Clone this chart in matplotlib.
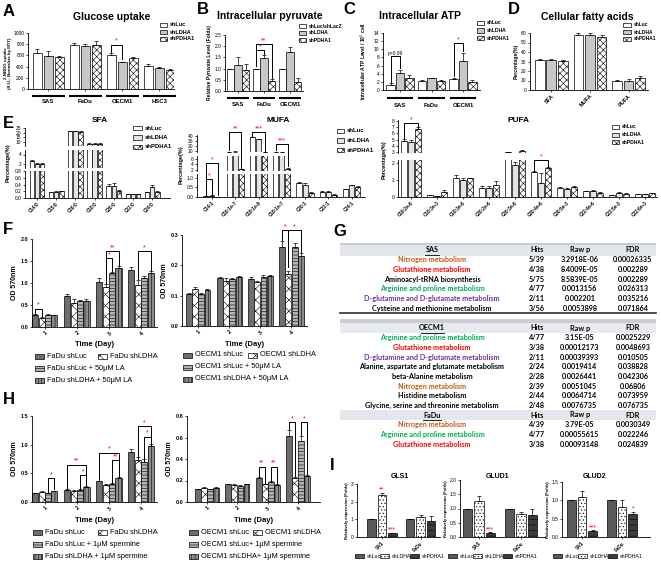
import matplotlib
matplotlib.use('Agg')
import matplotlib.pyplot as plt
import matplotlib.transforms as mtrans
from matplotlib.patches import Rectangle
import numpy as np

W, H = 661, 561
plt.rcParams.update({
    'font.family': ['Liberation Sans', 'DejaVu Sans'],
    'axes.linewidth': 0.6,
    'xtick.major.width': 0.5, 'ytick.major.width': 0.5,
    'xtick.major.size': 1.5, 'ytick.major.size': 1.5,
    'xtick.major.pad': 1, 'ytick.major.pad': 1,
    'xtick.labelsize': 3.5, 'ytick.labelsize': 3.5,
    'hatch.linewidth': 0.4,
})

# ---------------- data ----------------
kd3 = ['shLuc', 'shLDHA', 'shPDHA1']

# A glucose uptake
glu_cells = ['SAS', 'FaDu', 'OECM1', 'HSC3']
glu_mean = [[640, 585, 580], [785, 760, 780], [600, 475, 555], [410, 370, 345]]
glu_err = [[70, 95, 15], [45, 50, 75], [35, 10, 20], [35, 25, 8]]

# B pyruvate
pyr_cells = ['SAS', 'FaDu', 'OECM1']
pyr_mean = [[1.0, 1.18, 0.95], [1.0, 1.47, 0.45], [1.0, 1.72, 0.40]]
pyr_err = [[0.0, 0.35, 0.25], [0.0, 0.12, 0.08], [0.0, 0.25, 0.2]]

# C ATP
atp_cells = ['SAS', 'FaDu', 'OECM1']
atp_mean = [[1.3, 4.2, 3.0], [2.2, 2.9, 2.2], [2.6, 7.2, 1.9]]
atp_err = [[0.3, 0.8, 0.6], [0.2, 0.1, 0.3], [0.4, 1.8, 0.5]]

# D fatty acids
fa_class = ['SFA', 'MUFA', 'PUFA']
fa_mean = [[31.5, 32.0, 31.0], [58.0, 58.0, 56.0], [10.0, 9.0, 12.5]]
fa_err = [[1.5, 0.8, 1.0], [2.5, 1.5, 1.5], [1.0, 2.5, 2.5]]

# E
sfa_cats = ['C14:0', 'C15:0', 'C16:0', 'C18:0', 'C20:0', 'C22:0', 'C24:0']
sfa_mean = [[2.6, 2.0, 2.0], [0.17, 0.18, 0.20], [22.0, 22.0, 21.0], [8.5, 8.5, 8.5],
            [0.37, 0.35, 0.22], [0.12, 0.12, 0.12], [0.17, 0.33, 0.18]]
sfa_err = [[0.2, 0.1, 0.2], [0.01, 0.03, 0.02], [0.3, 0.3, 0.5], [0.3, 0.3, 0.5],
           [0.05, 0.08, 0.03], [0.01, 0.01, 0.01], [0.02, 0.06, 0.02]]

mufa_cats = ['C14:1', 'C16:1n-7', 'C18:1n-9', 'C18:1n-7', 'C20:1', 'C22:1', 'C24:1']
mufa_mean = [[0.05, 0.07, 0.02], [7.6, 7.8, 2.2], [37.0, 33.0, 7.5], [7.4, 7.6, 2.3],
             [0.75, 0.62, 0.22], [0.27, 0.27, 0.13], [0.40, 0.60, 0.50]]
mufa_err = [[0.01, 0.01, 0.005], [0.2, 0.3, 0.2], [0.8, 0.8, 0.3], [0.2, 0.3, 0.2],
            [0.05, 0.1, 0.06], [0.06, 0.06, 0.02], [0.03, 0.03, 0.08]]

pufa_cats = ['C18:2n-6', 'C18:3n-3', 'C18:3n-6', 'C20:2n-6', 'C20:3n-6',
             'C20:4n-6', 'C20:5n-3', 'C22:4n-6', 'C22:5n-3', 'C22:6n-3']
pufa_mean = [[4.8, 4.6, 6.8], [0.10, 0.05, 0.30], [1.15, 1.0, 1.1], [0.55, 0.55, 0.7],
             [2.9, 1.9, 3.1], [1.5, 0.85, 1.75], [0.55, 0.5, 0.6], [0.35, 0.35, 0.25],
             [0.10, 0.25, 0.20], [0.18, 0.18, 0.22]]
pufa_err = [[0.3, 0.3, 0.2], [0.02, 0.02, 0.1], [0.15, 0.1, 0.05], [0.1, 0.1, 0.25],
            [0.1, 0.2, 0.15], [0.05, 0.6, 0.05], [0.05, 0.05, 0.08], [0.03, 0.05, 0.03],
            [0.02, 0.05, 0.03], [0.02, 0.02, 0.03]]

# F / H growth curves
days = ['1', '2', '3', '4']
fadu_la_lab = ['FaDu shLuc', 'FaDu shLDHA', 'FaDu shLuc + 50\u03bcM LA', 'FaDu shLDHA + 50\u03bcM LA']
fadu_la_mean = [[0.27, 0.20, 0.28, 0.27], [0.70, 0.55, 0.60, 0.60],
                [1.02, 0.92, 1.22, 1.35], [1.30, 0.95, 1.12, 1.22]]
fadu_la_err = [[0.02, 0.02, 0.01, 0.01], [0.04, 0.08, 0.02, 0.04],
               [0.10, 0.05, 0.04, 0.03], [0.06, 0.12, 0.05, 0.05]]
oecm_la_lab = ['OECM1 shLuc', 'OECM1 shLDHA', 'OECM1 shLuc + 50\u03bcM LA', 'OECM1 shLDHA + 50\u03bcM LA']
oecm_la_mean = [[0.105, 0.122, 0.105, 0.118], [0.157, 0.150, 0.155, 0.162],
                [0.155, 0.145, 0.162, 0.165], [0.26, 0.17, 0.26, 0.23]]
oecm_la_err = [[0.005, 0.007, 0.005, 0.003], [0.005, 0.008, 0.004, 0.003],
               [0.008, 0.005, 0.005, 0.004], [0.02, 0.01, 0.015, 0.01]]
fadu_sp_lab = ['FaDu shLuc', 'FaDu shLDHA', 'FaDu shLuc + 1\u03bcM spermine', 'FaDu shLDHA + 1\u03bcM spermine']
fadu_sp_mean = [[0.15, 0.18, 0.15, 0.19], [0.21, 0.20, 0.21, 0.27],
                [0.36, 0.30, 0.32, 0.41], [0.88, 0.73, 0.70, 0.98]]
fadu_sp_err = [[0.01, 0.01, 0.01, 0.01], [0.01, 0.01, 0.01, 0.01],
               [0.01, 0.01, 0.01, 0.02], [0.05, 0.05, 0.05, 0.03]]
oecm_sp_lab = ['OECM1 shLuc', 'OECM1 shLDHA', 'OECM1 shLuc+ 1\u03bcM spermine', 'OECM1 shLDHA+ 1\u03bcM spermine']
oecm_sp_mean = [[0.12, 0.13, 0.12, 0.13], [0.165, 0.16, 0.15, 0.165],
                [0.22, 0.165, 0.19, 0.16], [0.61, 0.22, 0.57, 0.24]]
oecm_sp_err = [[0.005, 0.005, 0.005, 0.005], [0.005, 0.005, 0.005, 0.005],
               [0.01, 0.005, 0.005, 0.005], [0.06, 0.01, 0.04, 0.01]]

# G pathway table
sas_path = ['Nitrogen metabolism', 'Glutathione metabolism', 'Aminoacyl-tRNA biosynthesis',
            'Arginine and proline metabolism', 'D-glutamine and D-glutamate metabolism',
            'Cysteine and methionine metabolism']
sas_hits = ['5/39', '4/38', '5/75', '4/77', '2/11', '3/56']
sas_rawp = ['3.2918E-06', '8.4009E-05', '8.5839E-05', '0.0013156', '0.002201', '0.0053898']
sas_fdr = ['0.00026335', '0.002289', '0.002289', '0.026313', '0.035216', '0.071864']
oecm_path = ['Arginine and proline metabolism', 'Glutathione metabolism',
             'D-glutamine and D-glutamate metabolism', 'Alanine, aspartate and glutamate metabolism',
             'beta-Alanine metabolism', 'Nitrogen metabolism', 'Histidine metabolism',
             'Glycine, serine and threonine metabolism']
oecm_hits = ['4/77', '3/38', '2/11', '2/24', '2/28', '2/39', '2/44', '2/48']
oecm_rawp = ['3.15E-05', '0.00012173', '0.00039393', '0.0019414', '0.0026441', '0.0051045',
             '0.0064714', '0.0076735']
oecm_fdr = ['0.0025229', '0.0048693', '0.010505', '0.038828', '0.042306', '0.06806',
            '0.073959', '0.076735']
fadu_path = ['Nitrogen metabolism', 'Arginine and proline metabolism', 'Glutathione metabolism']
fadu_hits = ['4/39', '4/77', '3/38']
fadu_rawp = ['3.79E-05', '0.00055615', '0.00093148']
fadu_fdr = ['0.0030349', '0.022246', '0.024839']
path_color = {'Nitrogen metabolism': '#c55a11', 'Glutathione metabolism': '#ff0000',
              'Arginine and proline metabolism': '#00b050',
              'D-glutamine and D-glutamate metabolism': '#7030a0'}

# I qPCR
i_cells = ['SAS', 'FaDu']
gls1_mean = [[1.0, 2.35, 0.22], [1.0, 1.12, 0.88]]
gls1_err = [[0.0, 0.12, 0.03], [0.0, 0.15, 0.3]]
glud1_mean = [[1.0, 1.25, 0.14], [1.0, 0.82, 0.77]]
glud1_err = [[0.0, 0.18, 0.02], [0.0, 0.05, 0.2]]
glud2_mean = [[1.0, 1.1, 0.16], [1.0, 0.82, 0.63]]
glud2_err = [[0.0, 0.15, 0.02], [0.0, 0.2, 0.05]]

# ---------------- styles ----------------
st3 = [dict(facecolor='white', edgecolor='k'),
       dict(facecolor='#c8c8c8', edgecolor='k'),
       dict(facecolor='white', edgecolor='k', hatch='xxxxx')]
st3e = [dict(facecolor='white', edgecolor='k'),
        dict(facecolor='#e4e4e4', edgecolor='k'),
        dict(facecolor='white', edgecolor='k', hatch='xxxxx')]
st4 = [dict(facecolor='#6e6e6e', edgecolor='k'),
       dict(facecolor='white', edgecolor='k', hatch='xxx'),
       dict(facecolor='#b4b4b4', edgecolor='k', hatch='-----'),
       dict(facecolor='#8c8c8c', edgecolor='k', hatch='|||||')]
sti = [dict(facecolor='#5a5a5a', edgecolor='k'),
       dict(facecolor='white', edgecolor='k', hatch='.....'),
       dict(facecolor='#3c3c3c', edgecolor='k', hatch='---')]

fig = plt.figure(figsize=(W / 100, H / 100), dpi=100)
fig.patch.set_facecolor('white')


def fy(y):
    return 1 - y / H


def ax_px(x0, y0, x1, y1):
    return fig.add_axes([x0 / W, fy(y1), (x1 - x0) / W, (y1 - y0) / H])


def bars(ax, mean, err, width, offs, styles, x0=0):
    mean = np.array(mean)
    err = np.array(err)
    x = np.arange(mean.shape[0]) + x0
    for j, (o, st) in enumerate(zip(offs, styles)):
        ax.bar(x + o, mean[:, j], width, linewidth=0.5, **st)
        ax.errorbar(x + o, mean[:, j], yerr=[np.zeros(len(x)), err[:, j]], fmt='none',
                    ecolor='k', elinewidth=0.5, capsize=1.2, capthick=0.5)


def clean(ax):
    ax.spines[['top', 'right']].set_visible(False)
    ax.patch.set_alpha(0)


def bracket(ax, x1, x2, y, l1, l2, txt, trans=None, fs=5, color='red'):
    t = ax.transData if trans is None else trans
    ax.plot([x1, x1, x2, x2], [y - l1, y, y, y - l2], color='k', lw=0.7,
            transform=t, clip_on=False)
    ax.text((x1 + x2) / 2, y, txt, color=color, ha='center', va='bottom',
            fontsize=fs, transform=t)


def pbracket(ax, x1, x2, ypx, y1px, y2px, txt, fs=5):
    t = mtrans.blended_transform_factory(ax.transData, fig.transFigure)
    bracket(ax, x1, x2, fy(ypx), fy(ypx) - fy(y1px), fy(ypx) - fy(y2px), txt, trans=t, fs=fs)


def group_labels(ax, labels, ly, ty, half=0.45, fs=4.3):
    tr = mtrans.blended_transform_factory(ax.transData, ax.transAxes)
    for i, lab in enumerate(labels):
        ax.plot([i - half, i + half], [ly, ly], color='k', lw=1.5, transform=tr,
                clip_on=False, solid_capstyle='butt')
        ax.text(i, ty, lab, transform=tr, ha='center', va='top', fontsize=fs,
                fontweight='bold')
    ax.set_xticks(range(len(labels)))
    ax.set_xticklabels([])


def leg_item(x, y, st, label, fs, w=8, h=5, bold=False):
    r = Rectangle((x / W, fy(y + h / 2)), w / W, h / H, transform=fig.transFigure,
                  linewidth=0.5, **st)
    fig.patches.append(r)
    fig.text((x + w + 3) / W, fy(y), label, fontsize=fs, va='center', ha='left',
             fontweight='bold' if bold else 'normal')


def plabel(x, y, s):
    fig.text(x / W, fy(y), s, fontsize=12, fontweight='bold', va='center', ha='left')


def title(x, y, s, fs=7.5):
    fig.text(x / W, fy(y), s, fontsize=fs, fontweight='bold', ha='center', va='center')


def vlabel(x, y, s, fs=4):
    fig.text(x / W, fy(y), s, rotation=90, fontsize=fs, fontweight='bold',
             ha='center', va='center')


def broken(x0, x1, segs, mean, err, width, offs, styles, xlim, cats):
    axs = []
    for k, (yt, yb, lo, hi, ticks) in enumerate(segs):
        ax = ax_px(x0, yt, x1, yb)
        bars(ax, mean, err, width, offs, styles)
        ax.set_ylim(lo, hi)
        ax.set_xlim(*xlim)
        ax.set_yticks(ticks)
        clean(ax)
        if k < len(segs) - 1:
            ax.spines['bottom'].set_visible(False)
            ax.tick_params(axis='x', bottom=False, labelbottom=False)
        else:
            ax.set_xticks(range(len(cats)))
            ax.set_xticklabels(cats, rotation=45, ha='right', rotation_mode='anchor',
                               fontsize=3.3, fontweight='bold')
        axs.append(ax)
    return axs


off3 = [-0.3, 0.0, 0.3]

# ---------------- A ----------------
plabel(3, 12, 'A')
title(112, 17, 'Glucose uptake')
ax = ax_px(28, 33, 174, 89)
bars(ax, glu_mean, glu_err, 0.25, off3, st3)
ax.set_ylim(0, 1000)
ax.set_xlim(-0.55, 3.4)
ax.set_yticks(range(0, 1001, 200))
clean(ax)
group_labels(ax, glu_cells, -0.12, -0.18)
vlabel(8, 63, '2-NBDG uptake\n(R.U.; Normalize by MTT)', fs=3.2)
bracket(ax, 1.7, 2.0, 790, 130, 250, '*')
for k, lab in enumerate(kd3):
    leg_item(160, 25 + 7 * k, st3[k], lab, 4.0, w=7, h=4.5, bold=True)

# ---------------- B ----------------
plabel(197, 9, 'B')
title(270, 16, 'Intracellular pyruvate')
ax = ax_px(225, 35, 303, 91)
bars(ax, pyr_mean, pyr_err, 0.27, off3, st3)
ax.set_ylim(0, 2.5)
ax.set_xlim(-0.5, 2.5)
ax.set_yticks([0, 0.5, 1.0, 1.5, 2.0, 2.5])
clean(ax)
group_labels(ax, pyr_cells, -0.12, -0.2, half=0.42)
ax.set_ylabel('Relative Pyruvate Level (Folds)', fontsize=3.6, fontweight='bold', labelpad=2)
bracket(ax, 0.7, 1.0, 1.82, 0.7, 0.15, '*')
bracket(ax, 0.7, 1.3, 2.1, 1.0, 1.5, '**')
for k, lab in enumerate(['shLuc/shLacZ', 'shLDHA', 'shPDHA1']):
    leg_item(299, 26 + 7 * k, st3[k], lab, 3.6, w=7, h=4.5, bold=True)

# ---------------- C ----------------
plabel(343, 9, 'C')
title(420, 16, 'Intracellular ATP')
ax = ax_px(383, 33, 480, 90)
bars(ax, atp_mean, atp_err, 0.27, off3, st3)
ax.set_ylim(0, 14)
ax.set_xlim(-0.54, 2.54)
ax.set_yticks(range(0, 15, 2))
clean(ax)
group_labels(ax, atp_cells, -0.14, -0.22, half=0.42)
ax.set_ylabel('Intracellular ATP Level / 10$^5$ cell', fontsize=3.6, fontweight='bold', labelpad=4)
bracket(ax, -0.3, 0.0, 8.3, 6.5, 3.0, 'p=0.09', fs=3.5, color='k')
bracket(ax, 1.7, 2.0, 11.5, 8.0, 2.0, '*')
for k, lab in enumerate(kd3):
    leg_item(477, 23 + 7.5 * k, st3[k], lab, 3.6, w=7, h=4.5, bold=True)

# ---------------- D ----------------
plabel(508, 9, 'D')
title(587, 17, 'Cellular fatty acids')
ax = ax_px(530, 33, 648, 90)
bars(ax, fa_mean, fa_err, 0.25, off3, st3)
ax.set_ylim(0, 60)
ax.set_xlim(-0.55, 2.5)
ax.set_yticks(range(0, 61, 10))
clean(ax)
ax.set_xticks(range(3))
ax.set_xticklabels(fa_class, rotation=45, ha='right', rotation_mode='anchor',
                   fontsize=4, fontweight='bold')
ax.set_ylabel('Percentage(%)', fontsize=3.6, fontweight='bold', labelpad=2)
for k, lab in enumerate(kd3):
    leg_item(623, 25 + 7 * k, st3[k], lab, 3.5, w=8, h=4.5, bold=True)

# ---------------- E ----------------
plabel(3, 124, 'E')
title(100, 120, 'SFA', fs=6)
sfa_segs = [(128, 146, 6, 25, [10, 15, 20, 25]),
            (150, 168, 1, 5, [2, 4]),
            (171, 198, 0, 0.8, [0, 0.2, 0.4, 0.6, 0.8])]
sax = broken(25, 170, sfa_segs, sfa_mean, sfa_err, 0.23, [-0.27, 0, 0.27], st3e,
             (-0.63, 6.93), sfa_cats)
vlabel(8, 163, 'Percentage(%)')
for k, lab in enumerate(kd3):
    leg_item(133, 128 + 9.5 * k, st3e[k], lab, 4.3, w=9, h=4.5, bold=True)

title(278, 120, 'MUFA', fs=6)
mufa_segs = [(135, 152, 7, 42, [10, 20, 30, 40]),
             (156, 171, 1.5, 7, [2, 4, 6]),
             (174, 197, 0, 1.2, [0, 0.5, 1.0])]
max_ = broken(197, 365, mufa_segs, mufa_mean, mufa_err, 0.22, [-0.26, 0, 0.26], st3e,
              (-0.64, 6.57), mufa_cats)
vlabel(181, 165, 'Percentage(%)')
mb = max_[-1]
pbracket(mb, -0.26, 0.26, 163, 195, 195, '*')
pbracket(mb, -0.26, 0.0, 179, 195, 195, '*')
pbracket(mb, 0.74, 1.26, 132, 150, 168, '**')
pbracket(mb, 1.74, 2.26, 132, 137, 152, '***')
pbracket(mb, 2.74, 3.26, 144, 150, 166, '***')
for k, lab in enumerate(kd3):
    leg_item(337, 131 + 9.5 * k, st3e[k], lab, 4.3, w=7, h=4.5, bold=True)

title(518, 120, 'PUFA', fs=6)
pufa_segs = [(120, 153, 2.8, 8.2, [3, 4, 5, 6, 7, 8]),
             (160, 197, 0, 2.2, [0, 1, 2])]
pax = broken(398, 657, pufa_segs, pufa_mean, pufa_err, 0.22, [-0.27, 0, 0.27], st3e,
             (-0.5, 9.46), pufa_cats)
vlabel(384, 160, 'Percentage(%)')
pb = pax[-1]
pbracket(pb, -0.27, 0.27, 123, 139, 129, '*')
pbracket(pb, 4.73, 5.27, 160, 171, 167, '*')
for k, lab in enumerate(kd3):
    leg_item(612, 127 + 7.5 * k, st3e[k], lab, 3.6, w=7, h=4, bold=True)

# ---------------- F / H growth ----------------
off4 = [-0.3, -0.1, 0.1, 0.3]


def growth(box, mean, err, ylim, yticks, xlim, labels, leg_xy, tday_y):
    x0, y0, x1, y1 = box
    ax = ax_px(x0, y0, x1, y1)
    bars(ax, mean, err, 0.19, off4, st4, x0=1)
    ax.set_ylim(*ylim)
    ax.set_xlim(*xlim)
    ax.set_yticks(yticks)
    ax.set_yticklabels(['%.1f' % v for v in yticks], fontsize=4, fontweight='bold')
    clean(ax)
    ax.set_xticks(range(1, 5))
    ax.set_xticklabels(days, rotation=45, ha='right', rotation_mode='anchor',
                       fontsize=4, fontweight='bold')
    ax.set_ylabel('OD 570nm', fontsize=5, fontweight='bold', labelpad=2)
    fig.text((x0 + x1) / 2 / W, fy(tday_y), 'Time (Day)', fontsize=5.5,
             fontweight='bold', ha='center', va='center')
    lx, ly, lx2 = leg_xy
    leg_item(lx, ly, st4[0], labels[0], 5.3, w=9, h=5)
    leg_item(lx2, ly, st4[1], labels[1], 5.3, w=9, h=5)
    leg_item(lx, ly + 12, st4[2], labels[2], 5.3, w=9, h=5)
    leg_item(lx, ly + 24, st4[3], labels[3], 5.3, w=9, h=5)
    return ax


plabel(3, 230, 'F')
ax = growth((32, 239, 157, 327), fadu_la_mean, fadu_la_err, (0, 2.0), [0, 0.5, 1.0, 1.5, 2.0],
            (0.6, 4.5), fadu_la_lab, (35, 356, 98), 344)
bracket(ax, 0.7, 0.9, 0.42, 0.12, 0.18, '*')
bracket(ax, 2.9, 3.3, 1.72, 0.75, 0.32, '**')
bracket(ax, 2.9, 3.1, 1.57, 0.6, 0.3, '*')
bracket(ax, 3.9, 4.3, 1.72, 0.62, 0.45, '*')
ax = growth((182, 235, 307, 326), oecm_la_mean, oecm_la_err, (0, 0.3), [0, 0.1, 0.2, 0.3],
            (0.48, 4.5), oecm_la_lab, (183, 355, 248), 344)
bracket(ax, 3.7, 3.9, 0.315, 0.03, 0.12, '*')
bracket(ax, 3.9, 4.3, 0.315, 0.12, 0.07, '*')

plabel(3, 400, 'H')
ax = growth((32, 416, 157, 502), fadu_sp_mean, fadu_sp_err, (0, 1.5), [0, 0.5, 1.0, 1.5],
            (0.6, 4.5), fadu_sp_lab, (33, 532, 98), 520)
bracket(ax, 1.1, 1.3, 0.42, 0.25, 0.2, '*')
bracket(ax, 1.7, 2.3, 0.65, 0.42, 0.36, '**')
bracket(ax, 2.1, 2.3, 0.47, 0.24, 0.18, '*')
bracket(ax, 2.7, 3.3, 0.86, 0.48, 0.43, '*')
bracket(ax, 3.1, 3.3, 0.73, 0.39, 0.3, '**')
bracket(ax, 3.9, 4.3, 1.32, 0.55, 0.32, '*')
bracket(ax, 4.1, 4.3, 1.14, 0.42, 0.14, '*')
ax = growth((187, 416, 320, 502), oecm_sp_mean, oecm_sp_err, (0, 0.8), [0, 0.2, 0.4, 0.6, 0.8],
            (0.34, 4.72), oecm_sp_lab, (189, 532, 253), 520)
bracket(ax, 2.7, 2.9, 0.33, 0.1, 0.15, '**')
bracket(ax, 3.1, 3.3, 0.33, 0.13, 0.16, '**')
bracket(ax, 3.7, 3.9, 0.74, 0.07, 0.5, '*')
bracket(ax, 4.1, 4.3, 0.74, 0.12, 0.48, '*')

# ---------------- G table ----------------
plabel(333, 232, 'G')
cx_path, cx_hits, cx_raw, cx_fdr = 432, 537, 580, 633
fs_t = 5.2
tfont = ['Lato', 'DejaVu Sans']


def band(y0, y1, color):
    fig.patches.append(Rectangle((340 / W, fy(y1)), 316 / W, (y1 - y0) / H,
                                 transform=fig.transFigure, facecolor=color,
                                 edgecolor='none'))


def trow(y, cols, colors, underline=False):
    for x, s, c in zip((cx_path, cx_hits, cx_raw, cx_fdr), cols, colors):
        fig.text(x / W, fy(y), s, fontsize=fs_t, fontweight='bold', color=c,
                 ha='center', va='center', family=tfont)
    if underline:
        wpx = len(cols[0]) * 4.6
        fig.lines.append(plt.Line2D([(cx_path - wpx / 2) / W, (cx_path + wpx / 2) / W],
                                    [fy(y + 4.5), fy(y + 4.5)], color='k', lw=0.6,
                                    transform=fig.transFigure))


def section(name, y_head, paths, hits, rawp, fdr):
    trow(y_head, [name, 'Hits', 'Raw p', 'FDR'], ['k'] * 4, underline=True)
    for i, p in enumerate(paths):
        c = path_color.get(p, 'k')
        trow(y_head + 9.7 * (i + 1), [p, hits[i], rawp[i], fdr[i]], [c, 'k', 'k', 'k'])


band(243, 256, '#e3e6ec')
band(243, 245, '#c9ccd3')
section('SAS', 250, sas_path, sas_hits, sas_rawp, sas_fdr)
fig.lines.append(plt.Line2D([340 / W, 656 / W], [fy(312.5), fy(312.5)], color='#303030',
                            lw=1.2, transform=fig.transFigure))
band(319, 323, '#c9ccd3')
band(323, 333, '#e8eaf0')
section('OECM1', 328, oecm_path, oecm_hits, oecm_rawp, oecm_fdr)
band(410, 420, '#e3e6ec')
section('FaDu', 415, fadu_path, fadu_hits, fadu_rawp, fadu_fdr)

# ---------------- I qPCR ----------------
plabel(330, 466, 'I')


def qpcr(box, mean, err, ylim, yticks, xlim, name, tx, stars, leg_x):
    x0, y0, x1, y1 = box
    ax = ax_px(x0, y0, x1, y1)
    bars(ax, mean, err, 0.22, [-0.27, 0, 0.27], sti)
    ax.set_ylim(*ylim)
    ax.set_xlim(*xlim)
    ax.set_yticks(yticks)
    clean(ax)
    ax.set_xticks([0, 1])
    ax.set_xticklabels(i_cells, rotation=45, ha='right', rotation_mode='anchor',
                       fontsize=3.3, fontweight='bold')
    ax.set_ylabel('Relatively expression (Folds)', fontsize=3, fontweight='bold', labelpad=1)
    fig.text(tx / W, fy(477), name, fontsize=5, fontweight='bold', ha='center', va='center')
    for xs, ys, s in stars:
        ax.text(xs, ys, s, color='red', fontsize=5, ha='center', va='bottom')
    for k, lab in enumerate(kd3):
        leg_item(leg_x + [0, 25, 55][k], 556, sti[k], lab, 3.8, w=9, h=4)
    return ax


qpcr((357, 484, 440, 537), gls1_mean, gls1_err, (0, 3), [0, 1, 2, 3], (-0.64, 1.5),
     'GLS1', 400, [(0, 2.45, '**'), (0.27, 0.22, '***')], 355)
qpcr((460, 480, 545, 537), glud1_mean, glud1_err, (0, 2.0), [0, 0.5, 1.0, 1.5, 2.0],
     (-0.45, 1.57), 'GLUD1', 497, [(0.27, 0.14, '***')], 448)
qpcr((562, 482, 650, 537), glud2_mean, glud2_err, (0, 1.5), [0, 0.5, 1.0, 1.5],
     (-0.5, 1.7), 'GLUD2', 595, [(0.27, 0.16, '***'), (1.27, 0.68, '*')], 553)

fig.savefig('out.png', dpi=100)
